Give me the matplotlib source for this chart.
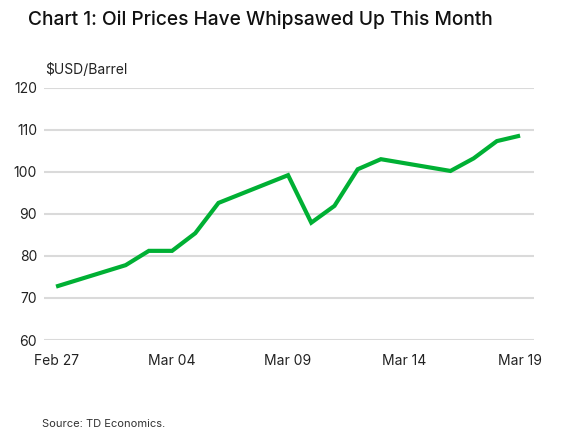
import matplotlib
matplotlib.use("Agg")
import matplotlib.pyplot as plt
import numpy as np

# Data
dates = ["2026-02-27", "2026-03-02", "2026-03-03", "2026-03-04", "2026-03-05", "2026-03-06",
         "2026-03-09", "2026-03-10", "2026-03-11", "2026-03-12", "2026-03-13",
         "2026-03-16", "2026-03-17", "2026-03-18", "2026-03-19"]
prices = [72.7, 77.8, 81.2, 81.2, 85.4, 92.6, 99.2, 87.9, 91.9, 100.6, 103.0,
          100.2, 103.2, 107.3, 108.6]
tick_dates = ["2026-02-27", "2026-03-04", "2026-03-09", "2026-03-14", "2026-03-19"]
tick_labels = ["Feb 27", "Mar 04", "Mar 09", "Mar 14", "Mar 19"]
y_ticks = [60, 70, 80, 90, 100, 110, 120]

plt.rcParams['font.family'] = ['Inter', 'DejaVu Sans']

start = np.datetime64(dates[0])
x = (np.array(dates, dtype='datetime64[D]') - start).astype(int)
xt = (np.array(tick_dates, dtype='datetime64[D]') - start).astype(int)

fig = plt.figure(figsize=(5.79, 4.32), dpi=100)
ax = fig.add_axes([44/579, 1-340/432, (534-44)/579, (340-87.7)/432])

ax.plot(x, prices, color='#00B034', lw=3.0, solid_capstyle='butt', solid_joinstyle='miter', zorder=3)

ax.set_ylim(60, 120)
ax.set_yticks(y_ticks)
ax.set_xlim(-0.52, 20.6)
ax.set_xticks(xt)
ax.set_xticklabels(tick_labels)
ax.grid(axis='y', color='#DADADA', lw=1.5)
ax.set_axisbelow(True)
for s in ax.spines.values():
    s.set_visible(False)
ax.tick_params(axis='both', length=0, labelsize=10, colors='#222222')
ax.tick_params(axis='y', pad=5)
ax.tick_params(axis='x', pad=10)

fig.text(28/579, 1-20/432, "Chart 1: Oil Prices Have Whipsawed Up This Month",
         fontsize=13.8, fontweight='medium', color='#111111', va='center', ha='left')
fig.text(45/579, 1-70/432, "$USD/Barrel", fontsize=10, color='#222222', va='center', ha='left')
fig.text(42/579, 1-424/432, "Source: TD Economics.", fontsize=8, color='#333333', va='center', ha='left')

fig.savefig("out.png", dpi=100)
